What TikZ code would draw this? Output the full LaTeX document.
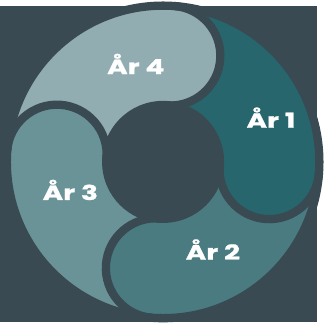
\documentclass[tikz,border=0pt]{standalone}
\usepackage{fontspec}
\setmainfont{Poppins}[FakeStretch=1.36,BoldFeatures={FakeBold=1.2}]
\usepackage{tikz}
\usetikzlibrary{calc}
\definecolor{bgslate}{HTML}{394A52}
\definecolor{yearone}{HTML}{28666D}
\definecolor{yeartwo}{HTML}{4A7B81}
\definecolor{yearthree}{HTML}{6A9398}
\definecolor{yearfour}{HTML}{92ADB2}
\tikzset{
  yearlabel/.style={text=white,font=\bfseries\fontsize{21}{21}\selectfont,anchor=base},
  gapline/.style={draw=bgslate,line width=8.5pt}
}

\begin{document}
\begin{tikzpicture}[x=1pt,y=1pt]
    \fill[bgslate] (0,0) rectangle (325,324);
    \coordinate (O) at (167,164);
    % one swirl per year: outer arc, round head, inner arc, hollow of the previous head
    \foreach \hd/\col in {-4/yearone,-94/yeartwo,176/yearthree,86/yearfour}
      \fill[\col] ($(O)+(\hd+90:160)$) arc[start angle=\hd+90,end angle=\hd,radius=160]
        arc[start angle=\hd,end angle=\hd-180,radius=51]
        arc[start angle=\hd,end angle=\hd+90,radius=58]
        arc[start angle=\hd-90,end angle=\hd+90,radius=51] -- cycle;
    % gaps round the heads
    \foreach \hd in {-4,-94,176,86}
      \draw[gapline] ($(O)+(\hd:160)$) arc[start angle=\hd,end angle=\hd-180,radius=51];
    \draw[gapline] (O) circle[radius=160];
    \fill[bgslate] (O) circle[radius=62.5];
    \node[yearlabel] (ar1) at (277.5,199) {År 1};
    \node[yearlabel] (ar2) at (218,64) {År 2};
    \node[yearlabel] (ar3) at (72,125) {År 3};
    \node[yearlabel] (ar4) at (139,254) {År 4};
\end{tikzpicture}
\end{document}
